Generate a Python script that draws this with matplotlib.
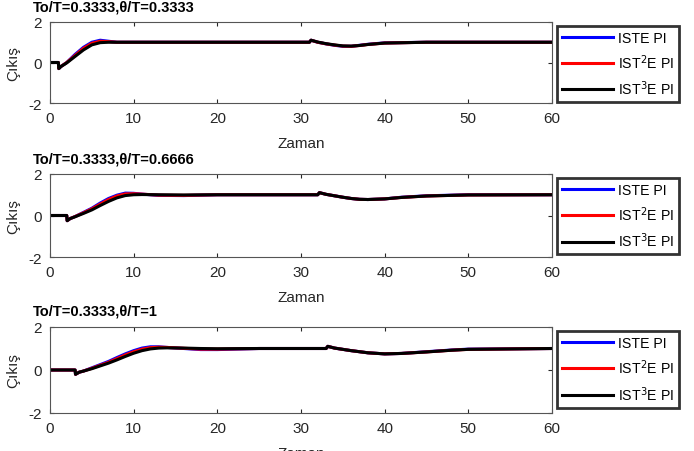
import matplotlib
matplotlib.use("Agg")
import matplotlib.pyplot as plt

plt.rcParams['font.family'] = ['Liberation Sans', 'DejaVu Sans']
plt.rcParams['axes.unicode_minus'] = False

# panel titles and legend labels
titles = ["To/T=0.3333,θ/T=0.3333", "To/T=0.3333,θ/T=0.6666", "To/T=0.3333,θ/T=1"]
labels = ["ISTE PI", "IST$^2$E PI", "IST$^3$E PI"]
xticks = [0, 10, 20, 30, 40, 50, 60]
yticks = [-2, 0, 2]

# panel 1 (theta/T = 0.3333)
t1 = [0, 1, 1.05, 1.3, 2, 3, 4, 5, 6, 7, 8, 10, 31, 31.2, 32, 33, 34, 35, 36, 37, 38, 40, 45, 60]
y1_iste = [0, 0, -0.3, -0.2, 0, 0.4, 0.75, 1.0, 1.1, 1.05, 1.0, 1.0, 1.0, 1.1, 1.0, 0.92, 0.85, 0.8, 0.8, 0.85, 0.9, 0.97, 1.0, 1.0]
y1_ist2e = [0, 0, -0.3, -0.2, 0, 0.35, 0.7, 0.95, 1.05, 1.03, 1.0, 1.0, 1.0, 1.1, 1.0, 0.92, 0.86, 0.81, 0.8, 0.84, 0.89, 0.96, 1.0, 1.0]
y1_ist3e = [0, 0, -0.3, -0.2, -0.02, 0.3, 0.62, 0.87, 0.98, 1.0, 1.0, 1.0, 1.0, 1.1, 1.01, 0.93, 0.87, 0.82, 0.81, 0.84, 0.89, 0.96, 1.0, 1.0]

# panel 2 (theta/T = 0.6666)
t2 = [0, 2, 2.05, 2.4, 3, 4, 5, 6, 7, 8, 9, 10, 11, 13, 16, 20, 32, 32.2, 33, 34, 35, 36, 37, 38, 40, 42, 45, 50, 60]
y2_iste = [0, 0, -0.25, -0.15, -0.05, 0.15, 0.35, 0.6, 0.82, 0.98, 1.08, 1.07, 1.03, 0.97, 0.96, 1.0, 1.0, 1.1, 1.02, 0.95, 0.88, 0.82, 0.78, 0.77, 0.8, 0.88, 0.95, 1.0, 1.0]
y2_ist2e = [0, 0, -0.25, -0.15, -0.05, 0.13, 0.32, 0.55, 0.77, 0.94, 1.04, 1.05, 1.03, 0.98, 0.97, 1.0, 1.0, 1.1, 1.02, 0.95, 0.88, 0.82, 0.78, 0.77, 0.8, 0.87, 0.94, 0.99, 1.0]
y2_ist3e = [0, 0, -0.25, -0.15, -0.06, 0.1, 0.27, 0.48, 0.68, 0.85, 0.96, 1.0, 1.01, 1.0, 0.99, 1.0, 1.0, 1.1, 1.02, 0.95, 0.88, 0.82, 0.78, 0.77, 0.8, 0.87, 0.94, 0.99, 1.0]

# panel 3 (theta/T = 1)
t3 = [0, 3, 3.05, 3.5, 4, 5, 6, 7, 8, 9, 10, 11, 12, 13, 14, 16, 18, 20, 25, 33, 33.2, 34, 35, 36, 38, 40, 42, 45, 48, 50, 60]
y3_iste = [0, 0, -0.2, -0.1, -0.05, 0.1, 0.25, 0.4, 0.58, 0.75, 0.9, 1.02, 1.08, 1.08, 1.05, 1.0, 0.95, 0.95, 1.0, 1.0, 1.1, 1.02, 0.96, 0.9, 0.8, 0.75, 0.77, 0.85, 0.93, 0.97, 1.0]
y3_ist2e = [0, 0, -0.2, -0.1, -0.05, 0.08, 0.22, 0.36, 0.53, 0.7, 0.85, 0.97, 1.04, 1.06, 1.05, 1.01, 0.97, 0.97, 1.0, 1.0, 1.1, 1.02, 0.96, 0.9, 0.8, 0.75, 0.77, 0.84, 0.92, 0.96, 1.0]
y3_ist3e = [0, 0, -0.2, -0.1, -0.05, 0.06, 0.19, 0.32, 0.47, 0.63, 0.78, 0.9, 0.98, 1.02, 1.03, 1.02, 1.0, 0.99, 1.0, 1.0, 1.1, 1.02, 0.96, 0.9, 0.8, 0.75, 0.77, 0.84, 0.92, 0.96, 1.0]

panels = [
    (t1, [y1_iste, y1_ist2e, y1_ist3e]),
    (t2, [y2_iste, y2_ist2e, y2_ist3e]),
    (t3, [y3_iste, y3_ist2e, y3_ist3e]),
]
colors = ['#0000ff', '#ff0000', '#000000']

fig = plt.figure(figsize=(6.94, 4.52), dpi=100)
# axes boxes in pixel terms: left 50, right 552
rects = [(50, 23, 104), (50, 175, 258), (50, 328, 414)]
W, H = 694.0, 452.0
gray = '#262626'

for (t, ys), title, (x0, ytop, ybot) in zip(panels, titles, rects):
    ax = fig.add_axes([x0 / W, 1 - ybot / H, (552 - x0) / W, (ybot - ytop) / H])
    for y, c, lab in zip(ys, colors, labels):
        ax.plot(t, y, color=c, lw=2.2, label=lab)
    ax.set_xlim(0, 60)
    ax.set_ylim(-2, 2)
    ax.set_xticks(xticks)
    ax.set_yticks(yticks)
    ax.tick_params(direction='in', top=True, right=True, labelsize=11,
                   colors=gray, length=3, pad=6)
    for s in ax.spines.values():
        s.set_color('#555555')
        s.set_linewidth(0.8)
    ax.set_xlabel("Zaman", fontsize=11, color=gray, labelpad=8)
    ax.set_ylabel("Çıkış", fontsize=11, color=gray, labelpad=6)
    ax.text(-0.034, (ybot - ytop + 9) / (ybot - ytop), title, transform=ax.transAxes,
            fontsize=10.5, fontweight='bold', ha='left', va='bottom')
    leg = ax.legend(loc='upper left', bbox_to_anchor=(1.01, 0.955), fontsize=10.2,
                    handlelength=3.6, handletextpad=0.35, labelspacing=0.55,
                    borderpad=0.35, borderaxespad=0, fancybox=False, frameon=True)
    leg.get_frame().set_edgecolor('black')
    leg.get_frame().set_linewidth(2)

fig.savefig("out.png", dpi=100)
